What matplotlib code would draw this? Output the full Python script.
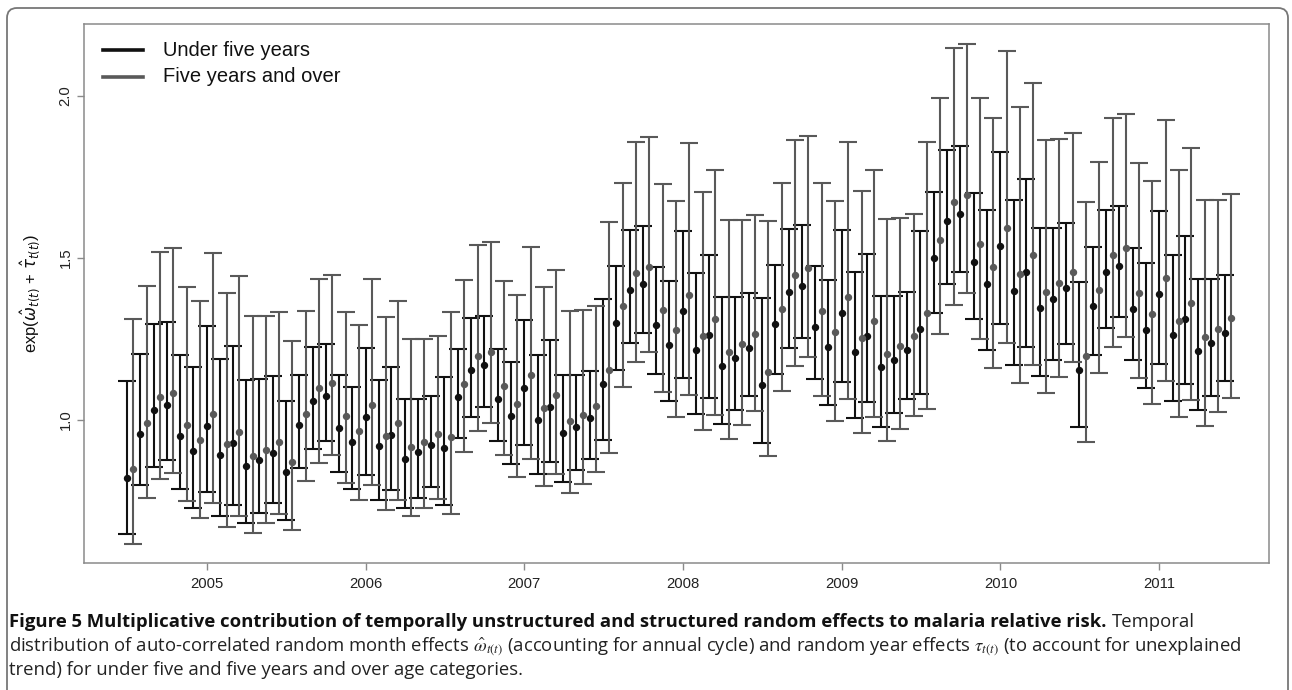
import matplotlib
matplotlib.use('Agg')
import matplotlib.pyplot as plt
import matplotlib.dates as mdates
from matplotlib.lines import Line2D
from matplotlib.patches import FancyBboxPatch
from datetime import datetime
import numpy as np

# months Jul 2004 .. Jun 2011
months = [datetime(2004 + (6 + k) // 12, (6 + k) % 12 + 1, 1) for k in range(84)]

# under five years: posterior mean, lower and upper limits
u5_mid = [0.820, 0.957, 1.031, 1.045, 0.951, 0.906, 0.981, 0.893, 0.930, 0.858, 0.876, 0.897,
          0.840, 0.984, 1.060, 1.073, 0.977, 0.932, 1.009, 0.919, 0.955, 0.881, 0.900, 0.923,
          0.915, 1.071, 1.154, 1.169, 1.064, 1.014, 1.099, 0.999, 1.040, 0.960, 0.980, 1.006,
          1.112, 1.300, 1.401, 1.420, 1.292, 1.231, 1.335, 1.215, 1.264, 1.168, 1.190, 1.221,
          1.109, 1.296, 1.396, 1.415, 1.287, 1.226, 1.329, 1.210, 1.258, 1.163, 1.185, 1.216,
          1.282, 1.499, 1.613, 1.635, 1.488, 1.420, 1.537, 1.399, 1.457, 1.345, 1.372, 1.408,
          1.155, 1.353, 1.457, 1.475, 1.344, 1.279, 1.388, 1.262, 1.312, 1.214, 1.237, 1.269]
u5_lo = [0.648, 0.800, 0.854, 0.877, 0.786, 0.729, 0.779, 0.704, 0.738, 0.683, 0.714, 0.743,
         0.693, 0.852, 0.912, 0.935, 0.840, 0.788, 0.831, 0.752, 0.783, 0.729, 0.761, 0.793,
         0.738, 0.945, 1.011, 1.039, 0.934, 0.865, 0.924, 0.833, 0.872, 0.809, 0.845, 0.880,
         0.940, 1.154, 1.237, 1.268, 1.141, 1.059, 1.130, 1.019, 1.068, 0.989, 1.032, 1.075,
         0.930, 1.143, 1.222, 1.254, 1.127, 1.046, 1.116, 1.007, 1.056, 0.980, 1.021, 1.065,
         1.081, 1.329, 1.421, 1.457, 1.311, 1.216, 1.297, 1.169, 1.226, 1.137, 1.186, 1.235,
         0.978, 1.202, 1.285, 1.318, 1.186, 1.100, 1.174, 1.058, 1.110, 1.030, 1.073, 1.120]
u5_hi = [1.120, 1.204, 1.295, 1.302, 1.202, 1.165, 1.291, 1.187, 1.230, 1.124, 1.127, 1.136,
         1.059, 1.138, 1.225, 1.234, 1.138, 1.102, 1.221, 1.123, 1.165, 1.064, 1.064, 1.075,
         1.134, 1.220, 1.314, 1.322, 1.219, 1.180, 1.310, 1.202, 1.247, 1.139, 1.139, 1.151,
         1.373, 1.476, 1.586, 1.598, 1.473, 1.428, 1.583, 1.455, 1.508, 1.381, 1.381, 1.392,
         1.376, 1.478, 1.590, 1.601, 1.476, 1.431, 1.586, 1.457, 1.512, 1.383, 1.384, 1.396,
         1.584, 1.703, 1.832, 1.845, 1.702, 1.649, 1.827, 1.679, 1.743, 1.593, 1.594, 1.608,
         1.426, 1.533, 1.649, 1.660, 1.531, 1.484, 1.644, 1.510, 1.568, 1.434, 1.434, 1.447]

# five years and over
o5_mid = [0.849, 0.992, 1.070, 1.082, 0.986, 0.940, 1.019, 0.926, 0.963, 0.890, 0.908, 0.931,
          0.870, 1.020, 1.099, 1.113, 1.012, 0.965, 1.046, 0.952, 0.991, 0.916, 0.933, 0.957,
          0.949, 1.110, 1.197, 1.211, 1.104, 1.051, 1.139, 1.036, 1.078, 0.996, 1.016, 1.043,
          1.154, 1.351, 1.454, 1.472, 1.340, 1.277, 1.385, 1.258, 1.311, 1.210, 1.236, 1.265,
          1.148, 1.344, 1.447, 1.468, 1.335, 1.272, 1.380, 1.253, 1.306, 1.205, 1.229, 1.260,
          1.330, 1.555, 1.672, 1.694, 1.542, 1.472, 1.594, 1.450, 1.510, 1.394, 1.423, 1.458,
          1.198, 1.402, 1.509, 1.530, 1.393, 1.326, 1.438, 1.307, 1.362, 1.257, 1.282, 1.316]
o5_lo = [0.617, 0.761, 0.818, 0.837, 0.751, 0.697, 0.743, 0.669, 0.704, 0.652, 0.681, 0.710,
         0.660, 0.813, 0.869, 0.893, 0.805, 0.753, 0.800, 0.722, 0.754, 0.704, 0.728, 0.757,
         0.711, 0.902, 0.965, 0.990, 0.891, 0.825, 0.880, 0.797, 0.833, 0.776, 0.804, 0.840,
         0.898, 1.102, 1.180, 1.211, 1.087, 1.009, 1.076, 0.970, 1.017, 0.943, 0.985, 1.027,
         0.889, 1.090, 1.167, 1.195, 1.075, 0.998, 1.065, 0.959, 1.009, 0.934, 0.973, 1.014,
         1.033, 1.266, 1.356, 1.391, 1.250, 1.160, 1.238, 1.115, 1.171, 1.084, 1.132, 1.180,
         0.933, 1.146, 1.226, 1.257, 1.131, 1.049, 1.120, 1.009, 1.061, 0.982, 1.024, 1.067]
o5_hi = [1.313, 1.413, 1.520, 1.530, 1.410, 1.366, 1.515, 1.392, 1.445, 1.320, 1.320, 1.334,
         1.243, 1.336, 1.436, 1.447, 1.333, 1.292, 1.434, 1.317, 1.367, 1.249, 1.249, 1.260,
         1.332, 1.432, 1.539, 1.549, 1.430, 1.385, 1.535, 1.411, 1.463, 1.337, 1.339, 1.352,
         1.611, 1.730, 1.859, 1.873, 1.728, 1.675, 1.856, 1.704, 1.770, 1.617, 1.618, 1.633,
         1.613, 1.732, 1.864, 1.877, 1.730, 1.677, 1.859, 1.707, 1.772, 1.620, 1.622, 1.637,
         1.857, 1.995, 2.147, 2.160, 1.993, 1.932, 2.140, 1.967, 2.041, 1.865, 1.867, 1.886,
         1.673, 1.796, 1.932, 1.944, 1.793, 1.738, 1.927, 1.770, 1.838, 1.679, 1.680, 1.696]

years = [2005, 2006, 2007, 2008, 2009, 2010, 2011]
legend_labels = ['Under five years', 'Five years and over']
c_u5 = '#111111'
c_o5 = '#595959'
axis_col = '#8a8a8a'

W, H = 1292, 690
fig = plt.figure(figsize=(W / 100, H / 100), dpi=100)
ax = fig.add_axes([83.5 / W, 1 - 563 / H, (1269 - 83.5) / W, (563 - 24) / H])

x_u5 = mdates.date2num(months)
x_o5 = x_u5 + 15  # second series drawn half a month later

for xs, mid, lo, hi, col in [(x_u5, u5_mid, u5_lo, u5_hi, c_u5),
                             (x_o5, o5_mid, o5_lo, o5_hi, c_o5)]:
    mid = np.array(mid)
    err = [mid - np.array(lo), np.array(hi) - mid]
    ax.errorbar(xs, mid, yerr=err, fmt='o', color=col, ms=4.3,
                ecolor=col, elinewidth=1.5, capsize=6.5, capthick=1.5)

x0 = mdates.date2num(datetime(2005, 1, 1))
ax.set_xlim(x0 - 284, x0 + 2444)
ax.set_ylim(0.559, 2.222)
ax.set_xticks([mdates.date2num(datetime(y, 1, 1)) for y in years])
ax.set_xticklabels([str(y) for y in years])
ax.set_yticks([1.0, 1.5, 2.0])
ax.set_yticklabels(['1.0', '1.5', '2.0'])
for lab in ax.get_yticklabels():
    lab.set_rotation(90)
    lab.set_va('center')
ax.tick_params(length=4.8, width=1, color=axis_col, labelsize=10.7, labelcolor='#222222')
ax.tick_params(axis='x', pad=5)
ax.tick_params(axis='y', pad=3)
for lab in ax.get_xticklabels() + ax.get_yticklabels():
    lab.set_family('Liberation Sans')
for s in ax.spines.values():
    s.set_color(axis_col)
    s.set_linewidth(1.1)

ax.set_ylabel(r'exp($\hat{\omega}_{t(t)}$ + $\hat{\tau}_{t(t)}$)', fontsize=12,
              family='Liberation Sans', color='#111111')
ax.yaxis.set_label_coords(-0.034, 0.5)

# legend, top left inside the box
for k, (lab, col) in enumerate(zip(legend_labels, [c_u5, c_o5])):
    yy = 1 - (50 + 26.5 * k) / H
    fig.add_artist(Line2D([103 / W, 143 / W], [yy, yy], color=col, lw=2.6))
    fig.text(163 / W, yy, lab, fontsize=14.5, family='Liberation Sans',
             va='center', color='#111111')

# rounded frame round the figure
frame = FancyBboxPatch((7 / W, -0.05), (1288 - 7) / W, 1 - 8 / H + 0.05,
                       boxstyle='round,pad=0,rounding_size=0.0077',
                       mutation_aspect=W / H, transform=fig.transFigure,
                       fill=False, ec='#777777', lw=1.3)
fig.add_artist(frame)

# caption
cap_font = 'Open Sans'
cap_size = 13.3
t1 = fig.text(9 / W, 1 - 627 / H,
              'Figure 5 Multiplicative contribution of temporally unstructured and structured '
              'random effects to malaria relative risk.',
              fontsize=cap_size, family=cap_font, fontweight='bold', va='baseline', color='#111111')
fig.canvas.draw()
bb = t1.get_window_extent(renderer=fig.canvas.get_renderer())
fig.text((bb.x1 + 5) / W, 1 - 627 / H, 'Temporal', fontsize=cap_size, family=cap_font,
         va='baseline', color='#222222')
fig.text(9 / W, 1 - 651 / H,
         r'distribution of auto-correlated random month effects $\hat{\omega}_{t(t)}$ '
         r'(accounting for annual cycle) and random year effects $\tau_{t(t)}$ '
         r'(to account for unexplained',
         fontsize=cap_size, family=cap_font, va='baseline', color='#222222',
         math_fontfamily='stix')
fig.text(9 / W, 1 - 675 / H,
         'trend) for under five and five years and over age categories.',
         fontsize=cap_size, family=cap_font, va='baseline', color='#222222')

fig.savefig('out.png', dpi=100)
